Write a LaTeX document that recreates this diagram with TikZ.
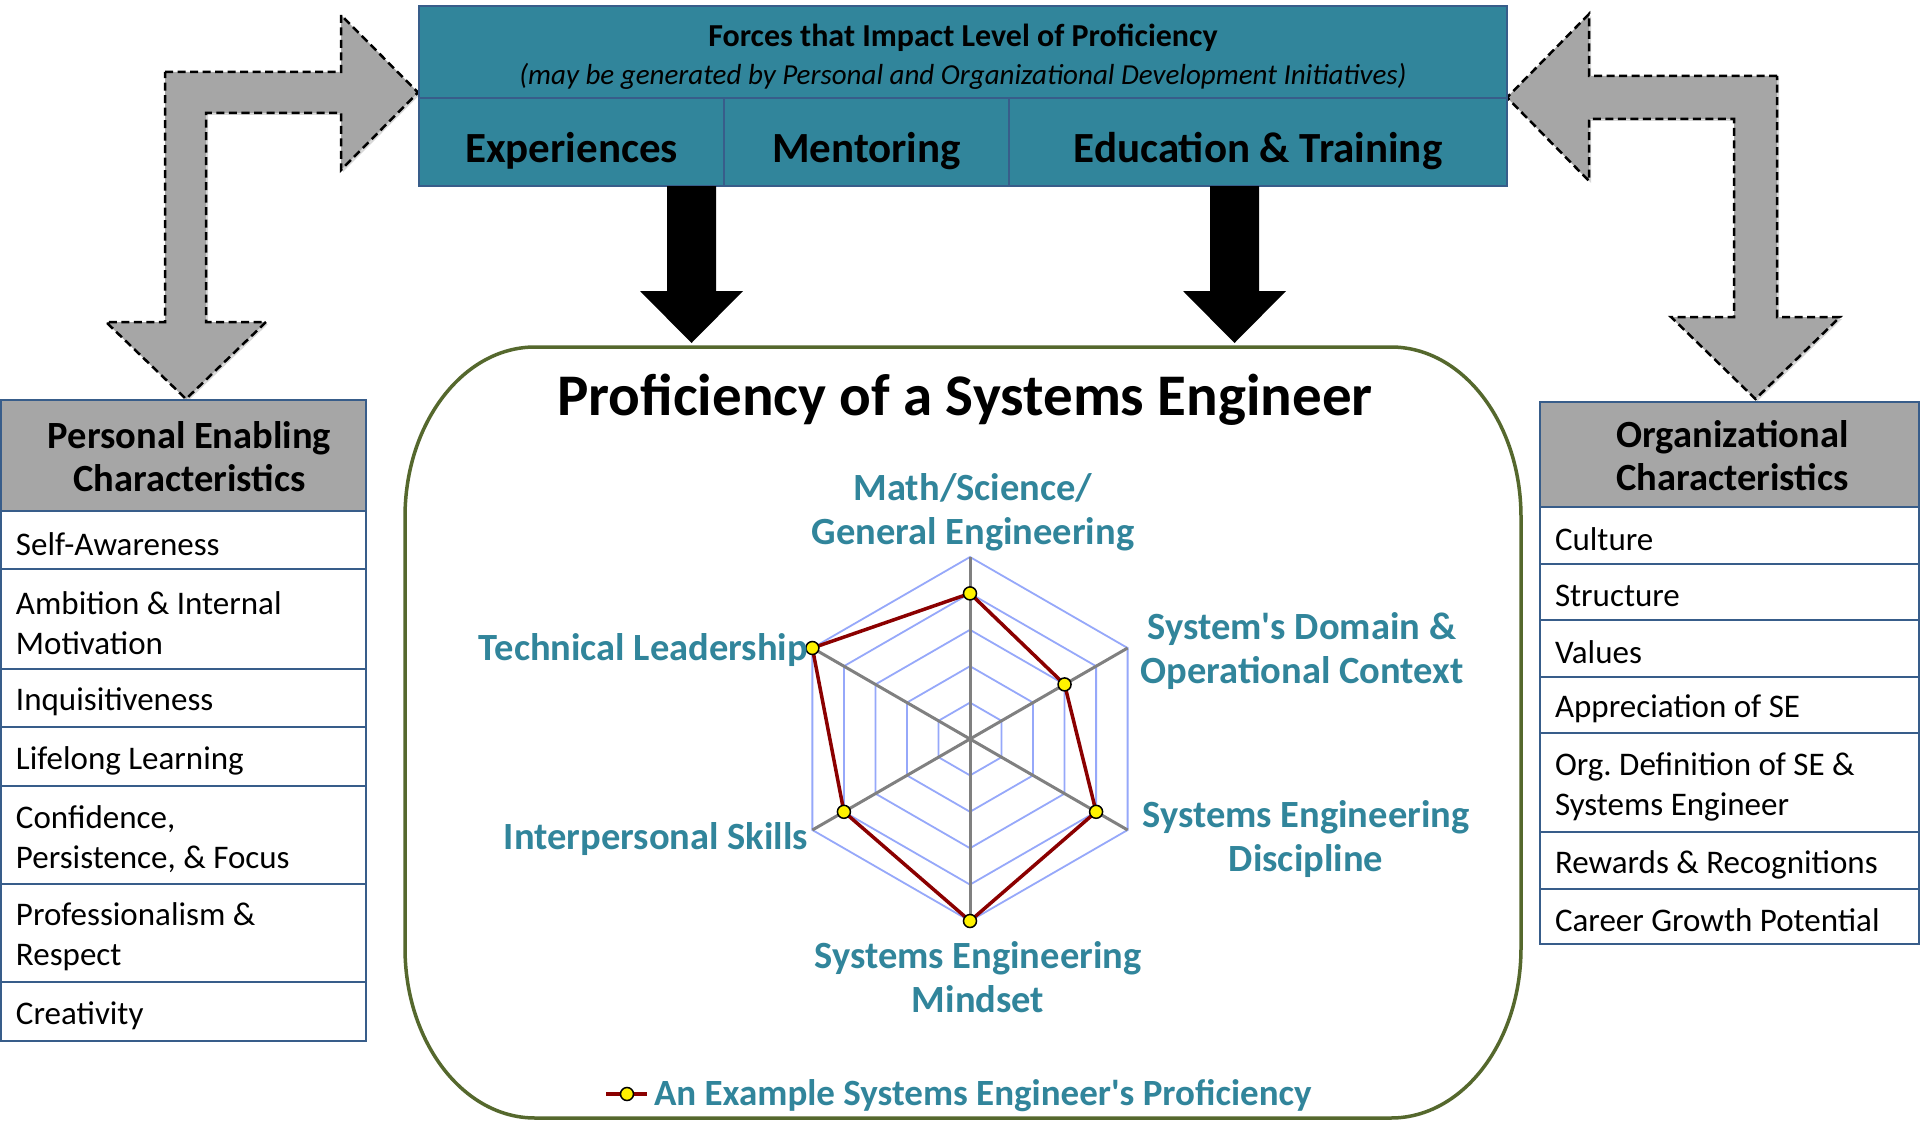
\documentclass[tikz,border=0pt]{standalone}
\usepackage{fontspec}
\setmainfont{Carlito}
\usetikzlibrary{shadows,calc}

\definecolor{forceteal}{RGB}{49,133,155}
\definecolor{tableblue}{RGB}{56,93,138}
\definecolor{framegreen}{RGB}{85,104,45}
\definecolor{ringblue}{RGB}{150,168,250}
\definecolor{spokegray}{RGB}{128,128,128}
\definecolor{datared}{RGB}{139,0,0}
\definecolor{blockgray}{RGB}{166,166,166}

\newcommand\sz[2]{\fontsize{#1}{#2}\selectfont}
\frenchspacing

\begin{document}
\begin{tikzpicture}[x=1pt,y=-1pt,
  every node/.style={inner sep=0pt,outer sep=0pt},
  bentarrow/.style={fill=blockgray,draw=black,line width=2.5pt,dash pattern=on 8pt off 4.5pt,
     line join=miter,drop shadow={opacity=0.3,shadow xshift=2pt,shadow yshift=-2pt}},
  blockdown/.style={fill=black},
  forcecell/.style={draw=tableblue,line width=2pt,fill=forceteal,anchor=north west},
  forcetext/.style={font=\bfseries\sz{43}{50}},
  cellframe/.style={draw=tableblue,line width=2pt,anchor=north west},
  headframe/.style={cellframe,fill=blockgray},
  rowtext/.style={anchor=west,align=left,font=\sz{33}{40}},
  headtext/.style={align=center,font=\bfseries\sz{38.5}{43}},
  axislabel/.style={text=forceteal,align=center,font=\bfseries\sz{38.5}{44}},
  ring/.style={draw=ringblue,line width=1.8pt},
  spoke/.style={draw=spokegray,line width=3pt},
  dataline/.style={draw=datared,line width=3.5pt,line join=round},
  marker/.style={circle,minimum size=13pt,fill=yellow,draw=black,line width=1.5pt}
]
\fill[white] (0,0) rectangle (1920,1121);
\useasboundingbox (0,0) rectangle (1920,1121);

% ---- bent grey arrows linking the forces box with both tables ----
\path[bentarrow] (165,72) -- (341,72) -- (341,15) -- (418,92.5) -- (341,170) -- (341,113)
  -- (206,113) -- (206,322) -- (266,322) -- (186,399) -- (106,322) -- (165,322) -- cycle;
\path[bentarrow] (1777,76) -- (1589,76) -- (1589,14) -- (1507,97.5) -- (1589,181) -- (1589,119)
  -- (1734,119) -- (1734,317) -- (1671,317) -- (1755.5,399) -- (1840,317) -- (1777,317) -- cycle;

% ---- forces box ----
\node[forcecell,minimum width=1088pt,minimum height=92pt] (forces) at (419,6) {};
\node[font=\bfseries\sz{32}{36}] (forcestitle) at (963,38) {Forces that Impact Level of Proficiency};
\node[font=\itshape\sz{29}{34}] (forcessub) at (963,76)
  {(may be generated by Personal and Organizational Development Initiatives)};
\node[forcecell,minimum width=305pt,minimum height=88pt] (exper) at (419,98) {};
\node[forcecell,minimum width=285pt,minimum height=88pt] (mentor) at (724,98) {};
\node[forcecell,minimum width=498pt,minimum height=88pt] (edu) at (1009,98) {};
\node[forcetext] (expert) at ($(exper.center)+(0,9)$) {Experiences};
\node[forcetext] (mentort) at ($(mentor.center)+(0,9)$) {Mentoring};
\node[forcetext] (edut) at ($(edu.center)+(0,9)$) {Education \& Training};

% ---- black block arrows into the proficiency frame ----
\path[blockdown] (667,186) -- (716,186) -- (716,291) -- (743,291) -- (691.5,343) -- (640,291)
  -- (667,291) -- cycle;
\path[blockdown] (1210,186) -- (1259,186) -- (1259,291) -- (1286,291) -- (1234.5,343) -- (1183,291)
  -- (1210,291) -- cycle;

% ---- proficiency frame ----
\draw[draw=framegreen,line width=3.5pt]
  (535,347) -- (1391,347) .. controls (1462.8,347) and (1521,423.1) .. (1521,517)
  -- (1521,948) .. controls (1521,1041.9) and (1462.8,1118) .. (1391,1118)
  -- (535,1118) .. controls (463.2,1118) and (405,1041.9) .. (405,948)
  -- (405,517) .. controls (405,423.1) and (463.2,347) .. cycle;
\node[font=\bfseries\sz{59}{66}] (proftitle) at (965,400) {Proficiency of a Systems Engineer};

% ---- radar chart ----
\begin{scope}[shift={(970,739)},yscale=-1]
  \foreach \r in {36.4,72.8,109.2,145.6,182}
    \draw[ring] (90:\r) -- (30:\r) -- (-30:\r) -- (-90:\r) -- (210:\r) -- (150:\r) -- cycle;
  \foreach \a in {90,30,-30,-90,210,150}
    \draw[spoke] (0,0) -- (\a:182);
  \coordinate (dA) at (90:145.6);
  \coordinate (dB) at (30:109.2);
  \coordinate (dC) at (-30:145.6);
  \coordinate (dD) at (-90:182);
  \coordinate (dE) at (210:145.6);
  \coordinate (dF) at (150:182);
  \draw[dataline] (dA) -- (dB) -- (dC) -- (dD) -- (dE) -- (dF) -- cycle;
  \foreach \p/\n in {dA/mA,dB/mB,dC/mC,dD/mD,dE/mE,dF/mF}
    \node[marker] (\n) at (\p) {};
\end{scope}

\node[axislabel] (lblmath) at (973,512) {Math/Science/\\General Engineering};
\node[axislabel] (lbldomain) at (1302,651) {System\textquotesingle s Domain \&\\Operational Context};
\node[axislabel] (lbldisc) at (1306,839) {Systems Engineering\\Discipline};
\node[axislabel] (lblmind) at (978,977) {Systems Engineering\\Mindset};
\node[axislabel,anchor=east] (lblinter) at (808,839) {Interpersonal Skills};
\node[axislabel,anchor=east] (lbltech) at (808,650) {Technical Leadership};

% ---- legend ----
\coordinate (legA) at (606,1094);
\coordinate (legB) at (647,1094);
\draw[dataline] (legA) -- (legB);
\node[marker] (legmark) at (627,1094) {};
\node[axislabel,anchor=west,font=\bfseries\sz{37}{44}] (legtext) at (654,1096)
  {An Example Systems Engineer\textquotesingle s Proficiency};

% ---- personal enabling characteristics ----
\node[headframe,minimum width=365pt,minimum height=111pt] (phead) at (1,400) {};
\node[cellframe,minimum width=365pt,minimum height=58pt] (p1) at (1,511) {};
\node[cellframe,minimum width=365pt,minimum height=100pt] (p2) at (1,569) {};
\node[cellframe,minimum width=365pt,minimum height=58pt] (p3) at (1,669) {};
\node[cellframe,minimum width=365pt,minimum height=59pt] (p4) at (1,727) {};
\node[cellframe,minimum width=365pt,minimum height=98pt] (p5) at (1,786) {};
\node[cellframe,minimum width=365pt,minimum height=98pt] (p6) at (1,884) {};
\node[cellframe,minimum width=365pt,minimum height=59pt] (p7) at (1,982) {};
\node[headtext] (pheadt) at ($(phead.center)+(6,1)$) {Personal Enabling\\Characteristics};
\node[rowtext] (p1t) at ($(p1.west)+(15,4)$) {Self-Awareness};
\node[rowtext] (p2t) at ($(p2.west)+(15,4)$) {Ambition \& Internal\\Motivation};
\node[rowtext] (p3t) at ($(p3.west)+(15,4)$) {Inquisitiveness};
\node[rowtext] (p4t) at ($(p4.west)+(15,4)$) {Lifelong Learning};
\node[rowtext] (p5t) at ($(p5.west)+(15,4)$) {Confidence,\\Persistence, \& Focus};
\node[rowtext] (p6t) at ($(p6.west)+(15,4)$) {Professionalism \&\\Respect};
\node[rowtext] (p7t) at ($(p7.west)+(15,4)$) {Creativity};

% ---- organizational characteristics ----
\node[headframe,minimum width=379pt,minimum height=105pt] (ohead) at (1540,402) {};
\node[cellframe,minimum width=379pt,minimum height=57pt] (o1) at (1540,507) {};
\node[cellframe,minimum width=379pt,minimum height=56pt] (o2) at (1540,564) {};
\node[cellframe,minimum width=379pt,minimum height=57pt] (o3) at (1540,620) {};
\node[cellframe,minimum width=379pt,minimum height=56pt] (o4) at (1540,677) {};
\node[cellframe,minimum width=379pt,minimum height=99pt] (o5) at (1540,733) {};
\node[cellframe,minimum width=379pt,minimum height=57pt] (o6) at (1540,832) {};
\node[cellframe,minimum width=379pt,minimum height=55pt] (o7) at (1540,889) {};
\node[headtext] (oheadt) at ($(ohead.center)+(3,1)$) {Organizational\\Characteristics};
\node[rowtext] (o1t) at ($(o1.west)+(15,4)$) {Culture};
\node[rowtext] (o2t) at ($(o2.west)+(15,4)$) {Structure};
\node[rowtext] (o3t) at ($(o3.west)+(15,4)$) {Values};
\node[rowtext] (o4t) at ($(o4.west)+(15,4)$) {Appreciation of SE};
\node[rowtext] (o5t) at ($(o5.west)+(15,4)$) {Org. Definition of SE \&\\Systems Engineer};
\node[rowtext] (o6t) at ($(o6.west)+(15,4)$) {Rewards \& Recognitions};
\node[rowtext] (o7t) at ($(o7.west)+(15,4)$) {Career Growth Potential};
\end{tikzpicture}
\end{document}
